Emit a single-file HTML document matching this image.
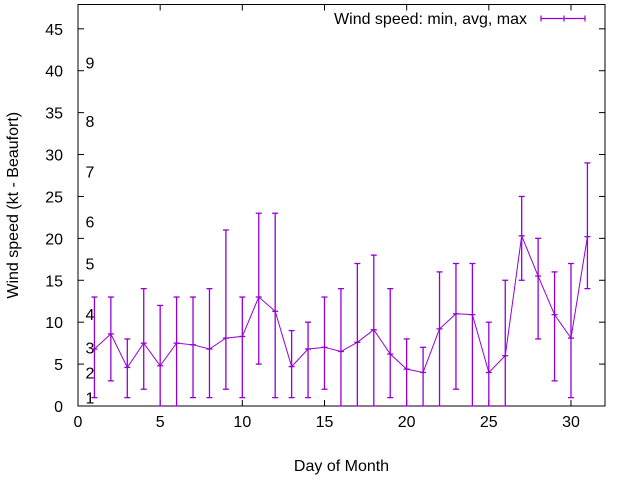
<!DOCTYPE html>
<html><head><meta charset="utf-8"><style>body{margin:0;background:#fff}svg{display:block;font-family:"Liberation Sans",sans-serif}</style></head>
<body>
<svg id="c" width="640" height="480" xmlns="http://www.w3.org/2000/svg"></svg>
<script>
const days=[1,2,3,4,5,6,7,8,9,10,11,12,13,14,15,16,17,18,19,20,21,22,23,24,25,26,27,28,29,30,31];
const avgVals=[6.8,8.6,4.6,7.5,4.8,7.5,7.3,6.8,8.1,8.3,13,11.3,4.7,6.8,7.0,6.5,7.6,9.1,6.2,4.4,4.0,9.2,11.0,10.9,4.0,6.0,20.3,15.5,10.9,8.1,20.2];
const minVals=[1,3,1,2,0,0,1,1,2,1,5,1,1,1,2,0,0,0,1,0,0,0,2,0,0,0,15,8,3,1,14];
const maxVals=[13,13,8,14,12,13,13,14,21,13,23,23,9,10,13,14,17,18,14,8,7,16,17,17,10,15,25,20,16,17,29];
const xTicks=[0,5,10,15,20,25,30];
const yTicks=[0,5,10,15,20,25,30,35,40,45];
const beaufortLevels=[1,2,3,4,5,6,7,8,9];
const beaufortKt=[1,4,7,11,17,22,28,34,41];
const L=78,R=605,T=4.5,B=406,XMAX=32.07,YMAX=47.9;
const sx=v=>L+v/XMAX*(R-L), sy=v=>B-v/YMAX*(B-T);
const svg=document.getElementById('c'),NS='http://www.w3.org/2000/svg';
function mk(tag,attrs,txt){const e=document.createElementNS(NS,tag);for(const k in attrs)e.setAttribute(k,attrs[k]);if(txt!==undefined)e.textContent=txt;svg.appendChild(e);return e;}
const C='#9400d3',FS=16;
let e=mk('rect',{x:L,y:T,width:R-L,height:B-T,fill:'none',stroke:'#000','stroke-width':1});

xTicks.forEach(v=>{const x=sx(v);
 mk('line',{x1:x,y1:B,x2:x,y2:B-6,stroke:'#000'});mk('line',{x1:x,y1:T,x2:x,y2:T+6,stroke:'#000'});
 const t=mk('text',{x:x,y:B+21,'font-size':FS,'text-anchor':'middle'},v);
 });
yTicks.forEach(v=>{const y=sy(v);
 mk('line',{x1:L,y1:y,x2:L+6,y2:y,stroke:'#000'});mk('line',{x1:R,y1:y,x2:R-6,y2:y,stroke:'#000'});
 const t=mk('text',{x:L-15,y:y+6,'font-size':FS,'text-anchor':'end'},v);
 });
beaufortLevels.forEach((b,i)=>{const t=mk('text',{x:90,y:sy(beaufortKt[i])+6,'font-size':FS,'text-anchor':'middle'},b);
 });
let t=mk('text',{x:(L+R)/2,y:471,'font-size':FS,'text-anchor':'middle'},'Day of Month');

t=mk('text',{x:0,y:0,'font-size':FS,'text-anchor':'middle',transform:'translate(18,'+(T+B)/2+') rotate(-90)'},'Wind speed (kt - Beaufort)');

const pts=days.map((d,i)=>sx(d)+','+sy(avgVals[i])).join(' ');
e=mk('polyline',{points:pts,fill:'none',stroke:C,'stroke-width':1});

days.forEach((d,i)=>{const x=sx(d),g=document.createElementNS(NS,'g');
 
 const a=[[x,sy(minVals[i]),x,sy(maxVals[i])],[x-3,sy(minVals[i]),x+3,sy(minVals[i])],[x-3,sy(maxVals[i]),x+3,sy(maxVals[i])],[x-3,sy(avgVals[i]),x+3,sy(avgVals[i])]];
 a.forEach(l=>{const ln=document.createElementNS(NS,'line');ln.setAttribute('x1',l[0]);ln.setAttribute('y1',l[1]);ln.setAttribute('x2',l[2]);ln.setAttribute('y2',l[3]);ln.setAttribute('stroke',C);ln.setAttribute('stroke-width',1.3);g.appendChild(ln);});
 svg.appendChild(g);});
t=mk('text',{x:527,y:24,'font-size':FS,'text-anchor':'end'},'Wind speed: min, avg, max');

e=mk('path',{d:'M541 18.5H585M541 15.5V21.5M564 15.5V21.5M585 15.5V21.5',stroke:C,'stroke-width':1.2,fill:'none'});

</script>
</body></html>
